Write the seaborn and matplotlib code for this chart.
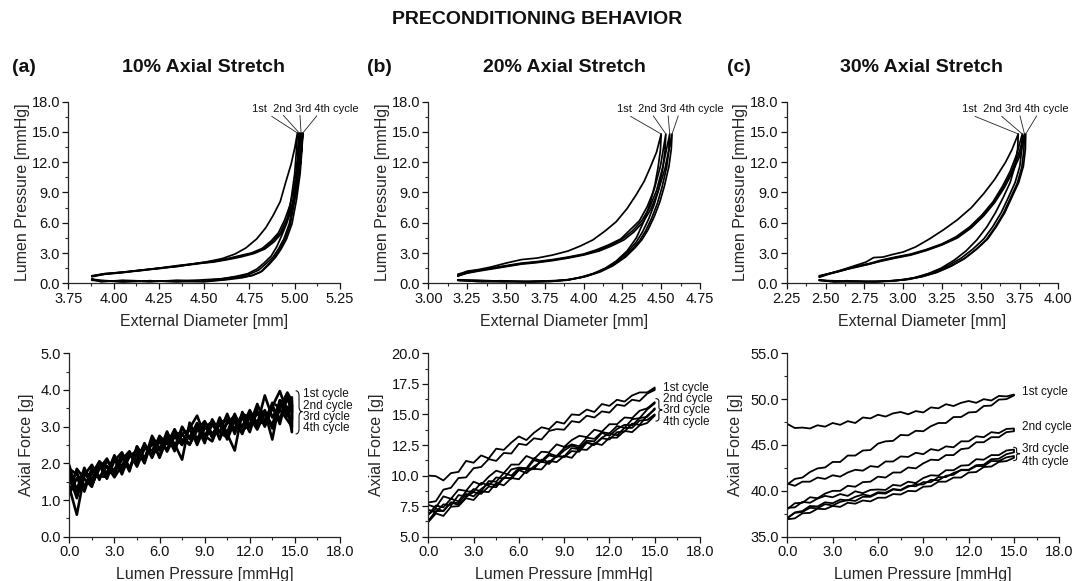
import matplotlib
matplotlib.use("Agg")
import matplotlib.pyplot as plt
from matplotlib.ticker import MultipleLocator, FormatStrFormatter
from matplotlib.path import Path
from matplotlib.patches import PathPatch
import seaborn as sns

# ---------------------------------------------------------------------------
# Pressure-diameter loops (top row): four preconditioning cycles per stretch.
# "UP" branches run from the lowest diameter to the peak, "DOWN" from the peak back.
# ---------------------------------------------------------------------------
DIAM_10_UP = [
    [3.88, 3.95, 4.05, 4.15, 4.25, 4.35, 4.45, 4.52, 4.60, 4.67, 4.73, 4.79, 4.84, 4.88, 4.92, 4.95, 4.98, 5.00, 5.015],
    [3.88, 3.95, 4.05, 4.15, 4.25, 4.35, 4.45, 4.55, 4.63, 4.70, 4.76, 4.82, 4.87, 4.91, 4.945, 4.975, 5.00, 5.015, 5.025],
    [3.88, 3.95, 4.05, 4.15, 4.25, 4.35, 4.45, 4.55, 4.63, 4.70, 4.77, 4.83, 4.88, 4.92, 4.955, 4.985, 5.008, 5.024, 5.035],
    [3.88, 3.95, 4.05, 4.15, 4.25, 4.35, 4.45, 4.55, 4.63, 4.70, 4.775, 4.835, 4.885, 4.925, 4.96, 4.99, 5.015, 5.032, 5.045],
]
PRES_10_UP = [
    [0.70, 0.90, 1.10, 1.30, 1.50, 1.75, 1.95, 2.15, 2.45, 2.90, 3.50, 4.40, 5.50, 6.70, 8.10, 10.0, 11.8, 13.4, 14.9],
    [0.70, 0.95, 1.10, 1.30, 1.50, 1.70, 1.95, 2.20, 2.45, 2.75, 3.00, 3.45, 4.20, 5.00, 6.30, 7.80, 9.80, 12.0, 14.9],
    [0.65, 0.90, 1.05, 1.30, 1.45, 1.70, 1.90, 2.15, 2.40, 2.70, 3.00, 3.45, 4.20, 5.00, 6.30, 7.80, 9.80, 12.0, 14.9],
    [0.75, 0.95, 1.10, 1.25, 1.50, 1.65, 1.95, 2.10, 2.35, 2.60, 2.95, 3.40, 4.10, 4.90, 6.20, 7.70, 9.70, 12.0, 14.9],
]
DIAM_10_DOWN = [
    [5.015, 5.01, 5.00, 4.98, 4.955, 4.925, 4.90, 4.87, 4.83, 4.79, 4.74, 4.68, 4.60, 4.50, 4.35, 4.20, 4.05, 3.93, 3.88],
    [5.025, 5.02, 5.01, 4.995, 4.97, 4.94, 4.91, 4.88, 4.845, 4.80, 4.75, 4.70, 4.62, 4.50, 4.35, 4.20, 4.05, 3.93, 3.88],
    [5.035, 5.03, 5.02, 5.00, 4.975, 4.945, 4.915, 4.885, 4.85, 4.81, 4.76, 4.70, 4.62, 4.50, 4.35, 4.20, 4.05, 3.93, 3.88],
    [5.045, 5.04, 5.03, 5.01, 4.985, 4.955, 4.925, 4.895, 4.86, 4.82, 4.77, 4.71, 4.62, 4.50, 4.35, 4.20, 4.05, 3.93, 3.88],
]
PRES_10_DOWN = [
    [14.9, 13.3, 10.9, 8.3, 5.9, 4.6, 3.6, 2.7, 2.0, 1.4, 0.95, 0.70, 0.45, 0.35, 0.18, 0.25, 0.15, 0.25, 0.30],
    [14.9, 13.3, 10.9, 8.3, 5.9, 4.4, 3.4, 2.6, 2.0, 1.3, 0.90, 0.70, 0.50, 0.25, 0.30, 0.15, 0.25, 0.20, 0.35],
    [14.9, 13.2, 10.8, 8.2, 5.8, 4.3, 3.3, 2.5, 1.8, 1.1, 0.75, 0.60, 0.40, 0.20, 0.15, 0.25, 0.15, 0.30, 0.40],
    [14.9, 13.3, 10.9, 8.3, 5.9, 4.4, 3.4, 2.6, 1.9, 1.2, 0.80, 0.55, 0.35, 0.15, 0.25, 0.20, 0.30, 0.15, 0.45],
]

DIAM_20_UP = [
    [3.19, 3.25, 3.32, 3.40, 3.50, 3.60, 3.70, 3.80, 3.90, 3.98, 4.06, 4.14, 4.21, 4.28, 4.34, 4.39, 4.43, 4.47, 4.50],
    [3.19, 3.25, 3.32, 3.40, 3.50, 3.60, 3.70, 3.80, 3.90, 4.00, 4.08, 4.16, 4.24, 4.30, 4.36, 4.41, 4.455, 4.495, 4.53],
    [3.19, 3.25, 3.32, 3.40, 3.50, 3.60, 3.70, 3.80, 3.90, 4.00, 4.09, 4.17, 4.25, 4.315, 4.375, 4.425, 4.47, 4.51, 4.555],
    [3.19, 3.25, 3.32, 3.40, 3.50, 3.60, 3.70, 3.80, 3.90, 4.00, 4.10, 4.18, 4.26, 4.325, 4.385, 4.435, 4.48, 4.525, 4.57],
]
PRES_20_UP = [
    [0.80, 1.20, 1.35, 1.60, 2.00, 2.35, 2.50, 2.80, 3.20, 3.70, 4.30, 5.20, 6.10, 7.40, 8.80, 10.1, 11.5, 13.0, 14.8],
    [0.90, 1.15, 1.30, 1.50, 1.75, 2.00, 2.15, 2.35, 2.60, 2.90, 3.30, 3.80, 4.40, 5.30, 6.20, 7.60, 9.30, 11.6, 14.8],
    [0.70, 1.05, 1.25, 1.45, 1.70, 1.95, 2.10, 2.30, 2.55, 2.85, 3.25, 3.75, 4.40, 5.20, 6.20, 7.50, 9.20, 11.5, 14.8],
    [0.75, 1.00, 1.20, 1.40, 1.65, 1.90, 2.05, 2.25, 2.50, 2.80, 3.20, 3.70, 4.30, 5.10, 6.10, 7.40, 9.10, 11.4, 14.8],
]
DIAM_20_DOWN = [
    [4.50, 4.495, 4.48, 4.46, 4.43, 4.39, 4.34, 4.28, 4.21, 4.14, 4.06, 3.98, 3.90, 3.80, 3.65, 3.50, 3.35, 3.25, 3.19],
    [4.53, 4.525, 4.51, 4.485, 4.455, 4.42, 4.38, 4.34, 4.295, 4.235, 4.16, 4.08, 3.99, 3.89, 3.78, 3.63, 3.47, 3.31, 3.19],
    [4.555, 4.55, 4.535, 4.505, 4.475, 4.44, 4.40, 4.36, 4.315, 4.255, 4.175, 4.095, 4.005, 3.905, 3.79, 3.64, 3.48, 3.32, 3.19],
    [4.57, 4.565, 4.55, 4.52, 4.49, 4.455, 4.415, 4.375, 4.33, 4.27, 4.19, 4.11, 4.02, 3.92, 3.80, 3.65, 3.48, 3.32, 3.19],
]
PRES_20_DOWN = [
    [14.8, 13.2, 11.5, 9.8, 8.0, 6.2, 4.5, 3.2, 2.2, 1.5, 0.95, 0.60, 0.35, 0.20, 0.15, 0.20, 0.15, 0.25, 0.30],
    [14.8, 13.2, 11.4, 9.4, 7.8, 6.4, 5.1, 4.1, 3.3, 2.4, 1.6, 1.05, 0.60, 0.30, 0.20, 0.15, 0.25, 0.20, 0.30],
    [14.8, 13.2, 11.5, 9.5, 7.9, 6.5, 5.2, 4.2, 3.4, 2.5, 1.7, 1.10, 0.65, 0.35, 0.25, 0.20, 0.15, 0.25, 0.30],
    [14.8, 13.3, 11.6, 9.6, 8.0, 6.6, 5.3, 4.3, 3.5, 2.6, 1.75, 1.15, 0.70, 0.40, 0.20, 0.15, 0.20, 0.30, 0.35],
]

DIAM_30_UP = [
    [2.46, 2.52, 2.58, 2.64, 2.70, 2.76, 2.81, 2.87, 2.93, 3.00, 3.08, 3.17, 3.26, 3.35, 3.44, 3.52, 3.59, 3.66, 3.70, 3.742],
    [2.46, 2.52, 2.58, 2.64, 2.70, 2.78, 2.86, 2.95, 3.05, 3.15, 3.25, 3.34, 3.43, 3.51, 3.58, 3.64, 3.69, 3.73, 3.768],
    [2.46, 2.52, 2.58, 2.64, 2.70, 2.78, 2.86, 2.95, 3.05, 3.15, 3.25, 3.345, 3.435, 3.515, 3.585, 3.647, 3.697, 3.74, 3.782],
    [2.46, 2.52, 2.58, 2.64, 2.70, 2.78, 2.86, 2.95, 3.05, 3.15, 3.25, 3.35, 3.44, 3.52, 3.59, 3.653, 3.703, 3.748, 3.79],
]
PRES_30_UP = [
    [0.65, 0.95, 1.20, 1.50, 1.80, 2.10, 2.55, 2.60, 2.85, 3.10, 3.60, 4.40, 5.30, 6.30, 7.50, 8.90, 10.3, 12.0, 13.2, 14.8],
    [0.70, 0.95, 1.20, 1.45, 1.70, 1.95, 2.30, 2.60, 2.90, 3.35, 3.90, 4.60, 5.60, 6.80, 8.10, 9.60, 11.1, 12.7, 14.8],
    [0.60, 0.90, 1.15, 1.40, 1.65, 1.90, 2.25, 2.55, 2.85, 3.30, 3.85, 4.55, 5.55, 6.75, 8.05, 9.55, 11.0, 12.6, 14.8],
    [0.75, 0.95, 1.15, 1.40, 1.60, 1.90, 2.20, 2.50, 2.80, 3.25, 3.80, 4.50, 5.50, 6.70, 8.00, 9.50, 10.95, 12.5, 14.8],
]
DIAM_30_DOWN = [
    [3.742, 3.738, 3.72, 3.69, 3.645, 3.595, 3.54, 3.475, 3.405, 3.33, 3.245, 3.16, 3.07, 2.97, 2.87, 2.76, 2.64, 2.53, 2.46],
    [3.768, 3.765, 3.752, 3.722, 3.678, 3.632, 3.577, 3.52, 3.45, 3.375, 3.285, 3.195, 3.105, 3.01, 2.91, 2.80, 2.68, 2.55, 2.46],
    [3.782, 3.778, 3.765, 3.735, 3.69, 3.645, 3.59, 3.535, 3.465, 3.39, 3.30, 3.21, 3.12, 3.025, 2.925, 2.815, 2.69, 2.555, 2.46],
    [3.79, 3.788, 3.775, 3.745, 3.70, 3.655, 3.60, 3.545, 3.475, 3.40, 3.31, 3.22, 3.13, 3.04, 2.94, 2.83, 2.70, 2.56, 2.46],
]
PRES_30_DOWN = [
    [14.8, 13.3, 11.6, 10.0, 8.5, 7.0, 5.6, 4.3, 3.2, 2.3, 1.5, 0.95, 0.55, 0.30, 0.20, 0.15, 0.25, 0.20, 0.30],
    [14.8, 13.3, 11.6, 10.0, 8.5, 7.0, 5.6, 4.4, 3.4, 2.5, 1.7, 1.10, 0.65, 0.35, 0.20, 0.20, 0.15, 0.25, 0.30],
    [14.8, 13.2, 11.5, 9.9, 8.4, 6.9, 5.5, 4.3, 3.3, 2.4, 1.65, 1.05, 0.65, 0.40, 0.25, 0.15, 0.20, 0.15, 0.35],
    [14.8, 13.3, 11.6, 10.0, 8.5, 7.0, 5.6, 4.4, 3.4, 2.5, 1.7, 1.10, 0.70, 0.40, 0.25, 0.15, 0.20, 0.15, 0.30],
]

# ---------------------------------------------------------------------------
# Axial force vs lumen pressure (bottom row), sampled on a pressure grid.
# LOAD lists follow increasing pressure; UNLOAD lists are also given in
# increasing-pressure order and are traversed backwards when drawn.
# ---------------------------------------------------------------------------
PRESSURE_10 = [0.0, 0.5, 1.0, 1.5, 2.0, 2.5, 3.0, 3.5, 4.0, 4.5, 5.0, 5.5, 6.0, 6.5, 7.0, 7.5,
               8.0, 8.5, 9.0, 9.5, 10.0, 10.5, 11.0, 11.5, 12.0, 12.5, 13.0, 13.5, 14.0, 14.5, 14.8]
PRESSURE_2030 = [0.0, 0.5, 1.0, 1.5, 2.0, 2.5, 3.0, 3.5, 4.0, 4.5, 5.0, 5.5, 6.0, 6.5, 7.0, 7.5,
                 8.0, 8.5, 9.0, 9.5, 10.0, 10.5, 11.0, 11.5, 12.0, 12.5, 13.0, 13.5, 14.0, 14.5, 15.0]

FORCE_10_LOAD = [
    [1.75, 1.30, 1.83, 1.56, 1.95, 1.58, 2.07, 2.30, 1.88, 2.26, 2.10, 2.75, 2.40, 2.77, 2.33, 2.95,
     2.71, 3.10, 2.65, 3.05, 2.85, 3.35, 2.80, 3.30, 3.05, 3.62, 3.10, 3.65, 3.52, 3.93, 3.70],
    [1.35, 0.60, 1.68, 1.96, 1.55, 2.08, 1.77, 2.10, 2.33, 1.96, 2.45, 2.25, 2.75, 2.52, 2.93, 2.55,
     2.96, 3.30, 2.75, 3.10, 2.70, 3.10, 3.30, 3.00, 3.45, 3.07, 3.85, 3.25, 3.62, 3.28, 3.60],
    [1.95, 1.20, 1.88, 1.41, 1.85, 2.13, 1.72, 2.20, 1.78, 2.46, 2.15, 2.55, 2.20, 2.82, 2.53, 2.10,
     3.11, 2.65, 3.10, 2.70, 3.25, 2.80, 2.35, 3.40, 3.00, 3.37, 3.05, 3.55, 3.97, 3.38, 3.20],
    [1.45, 1.75, 1.28, 1.86, 1.65, 1.63, 2.12, 1.70, 2.23, 2.11, 2.50, 2.20, 2.65, 2.37, 2.78, 2.65,
     2.51, 2.90, 3.15, 2.80, 3.05, 2.85, 3.35, 2.85, 3.25, 2.92, 3.40, 2.65, 3.72, 3.53, 2.85],
]
FORCE_10_UNLOAD = [
    [1.15, 1.60, 1.23, 1.86, 1.60, 1.93, 1.62, 1.95, 2.28, 1.91, 2.40, 2.35, 2.70, 2.32, 2.73, 2.50,
     3.01, 2.50, 3.00, 2.75, 3.15, 2.65, 3.15, 2.80, 3.35, 3.12, 3.45, 2.95, 3.47, 3.18, 3.00],
    [1.85, 1.70, 1.38, 1.71, 2.05, 1.68, 2.17, 1.80, 2.18, 2.36, 2.00, 2.65, 2.15, 2.67, 2.43, 3.00,
     2.66, 3.00, 2.55, 3.20, 2.85, 2.70, 3.25, 2.90, 3.05, 3.42, 3.00, 3.50, 3.22, 3.78, 3.40],
    [1.20, 1.85, 1.58, 1.36, 2.00, 1.73, 2.22, 1.85, 2.23, 2.06, 2.55, 2.15, 2.60, 2.37, 2.83, 2.80,
     2.51, 2.95, 2.75, 2.60, 3.10, 3.20, 2.90, 3.25, 2.85, 3.52, 3.35, 3.05, 3.72, 3.33, 3.80],
    [1.65, 1.05, 1.73, 1.46, 2.05, 1.88, 1.82, 2.25, 1.83, 2.46, 2.05, 2.60, 2.35, 2.87, 2.38, 2.80,
     2.91, 2.60, 2.95, 3.15, 2.65, 3.15, 2.95, 3.35, 3.25, 3.02, 3.20, 3.60, 3.07, 3.88, 3.60],
]

FORCE_20_LOAD = [
    [10.0, 9.95, 9.6, 10.2, 10.3, 11.2, 11.05, 11.65, 11.4, 12.2, 12.1, 12.7, 13.2, 12.9, 13.5, 13.95,
     13.8, 14.4, 14.25, 15.0, 14.95, 15.4, 15.2, 15.85, 15.7, 16.2, 16.05, 16.55, 16.8, 16.8, 17.2],
    [7.6, 7.4, 8.3, 8.1, 8.85, 8.75, 9.5, 9.25, 9.9, 10.4, 10.2, 10.9, 10.9, 11.6, 11.35, 11.95,
     11.9, 12.55, 12.35, 12.9, 13.25, 13.15, 13.75, 13.6, 14.2, 14.2, 14.75, 14.7, 15.3, 15.5, 16.0],
    [7.2, 7.0, 7.65, 7.55, 8.4, 8.3, 8.9, 8.7, 9.55, 9.5, 10.2, 10.0, 10.6, 10.5, 11.25, 11.1,
     11.65, 11.5, 12.05, 12.45, 12.25, 12.85, 12.8, 13.5, 13.25, 13.8, 14.15, 14.1, 14.7, 14.8, 15.5],
    [6.8, 7.3, 7.1, 7.8, 7.75, 8.5, 8.3, 8.9, 9.35, 9.2, 9.85, 9.75, 10.45, 10.6, 10.55, 11.3,
     11.1, 11.6, 11.55, 12.25, 12.15, 12.7, 12.5, 13.1, 13.45, 13.3, 13.9, 13.9, 14.5, 14.55, 15.0],
]
FORCE_20_UNLOAD = [
    [7.8, 7.9, 8.85, 9.0, 9.8, 9.85, 10.6, 10.7, 11.35, 11.2, 11.85, 11.8, 12.6, 12.5, 13.05, 12.95,
     13.65, 13.8, 13.75, 14.45, 14.35, 14.9, 14.75, 15.25, 15.15, 15.8, 15.7, 16.2, 16.1, 16.7, 17.0],
    [6.8, 7.55, 7.4, 8.1, 7.9, 8.7, 8.7, 9.4, 9.2, 9.85, 9.75, 10.5, 10.65, 10.6, 11.4, 11.2,
     11.8, 11.6, 12.25, 12.55, 12.4, 13.1, 13.0, 13.55, 13.45, 14.05, 13.9, 14.6, 14.7, 15.4, 15.9],
    [6.3, 7.1, 7.1, 7.8, 7.6, 8.25, 8.65, 8.5, 9.1, 9.05, 9.8, 9.8, 10.45, 10.2, 10.75, 11.15,
     10.95, 11.6, 11.5, 12.0, 11.95, 12.7, 12.55, 13.05, 12.95, 13.55, 13.6, 14.25, 14.15, 14.9, 15.4],
    [6.2, 6.9, 6.7, 7.45, 7.5, 8.15, 8.0, 8.7, 8.65, 9.4, 9.2, 9.8, 9.7, 10.4, 10.55, 10.5,
     11.2, 11.1, 11.6, 11.45, 12.15, 12.1, 12.65, 12.5, 13.1, 13.1, 13.65, 13.55, 14.1, 14.3, 14.9],
]

FORCE_30_LOAD = [
    [47.3, 46.85, 46.9, 46.8, 47.15, 47.0, 47.4, 47.2, 47.6, 47.4, 48.0, 47.9, 48.3, 48.1, 48.45, 48.6,
     48.35, 48.7, 48.55, 49.1, 49.0, 49.45, 49.25, 49.6, 49.8, 49.6, 50.0, 49.85, 50.35, 50.3, 50.5],
    [40.8, 40.55, 41.0, 41.0, 41.45, 41.3, 41.7, 41.55, 42.0, 42.3, 42.2, 42.7, 42.6, 43.2, 43.2, 43.75,
     43.7, 44.15, 44.0, 44.55, 44.4, 44.85, 44.75, 45.4, 45.4, 45.95, 45.85, 46.4, 46.3, 46.75, 46.8],
    [38.15, 38.2, 38.8, 38.7, 39.15, 39.45, 39.3, 39.65, 39.45, 39.95, 39.75, 40.1, 40.15, 40.1, 40.65, 40.55,
     41.0, 40.85, 41.4, 41.7, 41.65, 42.25, 42.25, 42.75, 42.8, 43.45, 43.4, 43.9, 43.9, 44.4, 44.5],
    [37.0, 37.65, 37.8, 38.35, 38.3, 38.75, 38.65, 39.05, 38.95, 39.35, 39.6, 39.45, 39.85, 39.8, 40.2, 40.1,
     40.55, 40.5, 40.95, 40.95, 41.5, 41.5, 41.95, 42.25, 42.25, 42.7, 42.7, 43.25, 43.25, 43.65, 43.8],
]
FORCE_30_UNLOAD = [
    [40.7, 41.3, 41.45, 42.05, 42.45, 42.55, 43.15, 43.15, 43.85, 43.85, 44.4, 44.45, 45.15, 45.4, 45.45, 46.1,
     46.05, 46.55, 46.5, 47.05, 47.4, 47.4, 48.05, 48.05, 48.55, 48.6, 49.25, 49.3, 49.95, 50.0, 50.4],
    [38.0, 38.65, 38.7, 39.3, 39.2, 39.7, 40.0, 40.0, 40.55, 40.45, 40.95, 41.0, 41.55, 41.45, 42.0, 42.0,
     42.55, 42.45, 43.0, 43.4, 43.35, 43.9, 43.9, 44.55, 44.65, 45.3, 45.3, 45.85, 45.85, 46.4, 46.5],
    [37.05, 37.6, 37.7, 38.15, 38.1, 38.55, 38.4, 38.8, 39.0, 38.9, 39.35, 39.35, 39.75, 39.7, 40.15, 40.05,
     40.45, 40.7, 40.7, 41.2, 41.15, 41.65, 41.75, 42.3, 42.3, 42.8, 42.85, 43.45, 43.5, 44.0, 44.2],
    [36.9, 37.0, 37.55, 37.6, 38.05, 38.0, 38.35, 38.25, 38.7, 38.6, 38.95, 38.85, 39.25, 39.25, 39.65, 39.6,
     40.0, 39.95, 40.45, 40.5, 41.0, 41.0, 41.45, 41.45, 42.0, 42.05, 42.6, 42.65, 43.15, 43.25, 43.6],
]

PANEL_LETTERS = ["(a)", "(b)", "(c)"]
PANEL_TITLES = ["10% Axial Stretch", "20% Axial Stretch", "30% Axial Stretch"]
CYCLE_NAMES = ["1st cycle", "2nd cycle", "3rd cycle", "4th cycle"]
PEAK_LABEL = "1st  2nd 3rd 4th cycle"

# ---------------------------------------------------------------------------
sns.set_theme(style="ticks")
plt.rcParams["font.family"] = ["Liberation Sans", "DejaVu Sans"]
plt.rcParams["axes.linewidth"] = 0.9
plt.rcParams["text.color"] = "#111111"

W, H = 1075, 581
fig = plt.figure(figsize=(W / 100, H / 100), dpi=100)


def box(x0, y0, x1, y1):
    """Axes rectangle from pixel corners (top-left origin)."""
    return [x0 / W, 1 - y1 / H, (x1 - x0) / W, (y1 - y0) / H]


LINE_KW = dict(color="black", sort=False, estimator=None)


def style_axes(ax, xlim, ylim, xmaj, ymaj, xfmt, yfmt, xlabel, ylabel, ypad):
    sns.despine(ax=ax)
    ax.set_xlim(*xlim)
    ax.set_ylim(*ylim)
    ax.xaxis.set_major_locator(MultipleLocator(xmaj))
    ax.xaxis.set_minor_locator(MultipleLocator(xmaj / 2))
    ax.yaxis.set_major_locator(MultipleLocator(ymaj))
    ax.yaxis.set_minor_locator(MultipleLocator(ymaj / 2))
    ax.xaxis.set_major_formatter(FormatStrFormatter(xfmt))
    ax.yaxis.set_major_formatter(FormatStrFormatter(yfmt))
    ax.tick_params(which="major", direction="out", length=4, width=0.9, labelsize=10.5,
                   pad=2, colors="#111111")
    ax.tick_params(which="minor", direction="out", length=2.5, width=0.8)
    ax.set_xlabel(xlabel, fontsize=11.5, labelpad=6)
    ax.set_ylabel(ylabel, fontsize=11.5, labelpad=ypad)
    ax.set_facecolor("white")


def draw_brace(ax, x, y_top, y_bot, y_tip, width):
    xm = x + width * 0.5
    xt = x + width
    r = (y_top - y_bot) * 0.12
    verts = [(x, y_top), (xm, y_top), (xm, y_top - r), (xm, y_tip + r),
             (xm, y_tip), (xt, y_tip), (xm, y_tip), (xm, y_tip - r),
             (xm, y_bot + r), (xm, y_bot), (x, y_bot)]
    codes = [Path.MOVETO, Path.CURVE3, Path.CURVE3, Path.LINETO,
             Path.CURVE3, Path.CURVE3, Path.CURVE3, Path.CURVE3,
             Path.LINETO, Path.CURVE3, Path.CURVE3]
    ax.add_patch(PathPatch(Path(verts, codes), fill=False, lw=0.8,
                           edgecolor="#111111", clip_on=False))


# ---------------- top row: pressure vs diameter -----------------
top_specs = [
    (DIAM_10_UP, PRES_10_UP, DIAM_10_DOWN, PRES_10_DOWN, (3.75, 5.25), (68.3, 340.0),
     4.764, [(4.873, 16.55), (4.937, 16.65), (5.029, 16.65), (5.122, 16.6)]),
    (DIAM_20_UP, PRES_20_UP, DIAM_20_DOWN, PRES_20_DOWN, (3.00, 4.75), (428.3, 700.0),
     4.213, [(4.303, 16.55), (4.449, 16.6), (4.545, 16.6), (4.610, 16.6)]),
    (DIAM_30_UP, PRES_30_UP, DIAM_30_DOWN, PRES_30_DOWN, (2.25, 4.00), (786.7, 1058.3),
     3.378, [(3.463, 16.55), (3.635, 16.55), (3.753, 16.6), (3.861, 16.6)]),
]

top_axes = []
for (dx_up, py_up, dx_dn, py_dn, xlim, (px0, px1), tx, starts) in top_specs:
    ax = fig.add_axes(box(px0, 101.7, px1, 283.3))
    top_axes.append(ax)
    for c in range(4):
        xs = dx_up[c] + dx_dn[c]
        ys = py_up[c] + py_dn[c]
        sns.lineplot(x=xs, y=ys, ax=ax, linewidth=1.25, **LINE_KW)
    style_axes(ax, xlim, (0, 18), 0.25, 3.0, "%.2f", "%.1f",
               "External Diameter [mm]", "Lumen Pressure [mmHg]", 1)
    ax.text(tx, 17.3, PEAK_LABEL, fontsize=8, ha="left", va="center", clip_on=False)
    for c, (sx, sy) in enumerate(starts):
        ax.plot([sx, dx_up[c][-1]], [sy, py_up[c][-1]], color="#222222", lw=0.6,
                clip_on=False)

# ---------------- bottom row: axial force vs pressure -----------------
bottom_specs = [
    (PRESSURE_10, FORCE_10_LOAD, FORCE_10_UNLOAD, (0, 5), 1.0, (69.3, 340.0), 1.9),
    (PRESSURE_2030, FORCE_20_LOAD, FORCE_20_UNLOAD, (5, 20), 2.5, (428.3, 700.0), 1.3),
    (PRESSURE_2030, FORCE_30_LOAD, FORCE_30_UNLOAD, (35, 55), 5.0, (787.3, 1059.3), 1.3),
]

bottom_axes = []
for (pgrid, f_load, f_unload, ylim, ymaj, (px0, px1), lw) in bottom_specs:
    ax = fig.add_axes(box(px0, 353.3, px1, 536.7))
    bottom_axes.append(ax)
    for c in range(4):
        xs = pgrid + pgrid[::-1]
        ys = f_load[c] + f_unload[c][::-1]
        sns.lineplot(x=xs, y=ys, ax=ax, linewidth=lw, **LINE_KW)
    style_axes(ax, (0, 18), ylim, 3.0, ymaj, "%.1f", "%.1f",
               "Lumen Pressure [mmHg]", "Axial Force [g]", 5)

# cycle labels and braces
ax = bottom_axes[0]
for name, y in zip(CYCLE_NAMES, [3.88, 3.56, 3.26, 2.96]):
    ax.text(15.55, y, name, fontsize=8.5, ha="left", va="center")
draw_brace(ax, 15.05, 3.98, 2.80, 3.41, 0.45)

ax = bottom_axes[1]
for name, y in zip(CYCLE_NAMES, [17.2, 16.24, 15.37, 14.36]):
    ax.text(15.55, y, name, fontsize=8.5, ha="left", va="center")
draw_brace(ax, 15.05, 16.3, 14.45, 15.37, 0.45)

ax = bottom_axes[2]
for name, y in zip(CYCLE_NAMES, [50.8, 46.95, 44.6, 43.2]):
    ax.text(15.5, y, name, fontsize=8.5, ha="left", va="center")
draw_brace(ax, 14.95, 44.75, 43.3, 44.05, 0.45)

# ---------------- titles -----------------
fig.text(0.5, 1 - 19 / H, "PRECONDITIONING BEHAVIOR", ha="center", va="center",
         fontsize=14, fontweight="bold")
for letter, title, lx, cx in zip(PANEL_LETTERS, PANEL_TITLES, [12, 367, 727], [204, 564, 922]):
    fig.text(lx / W, 1 - 68 / H, letter, ha="left", va="center", fontsize=14, fontweight="bold")
    fig.text(cx / W, 1 - 68 / H, title, ha="center", va="center", fontsize=14, fontweight="bold")

fig.savefig("out.png", dpi=100, facecolor="white")
